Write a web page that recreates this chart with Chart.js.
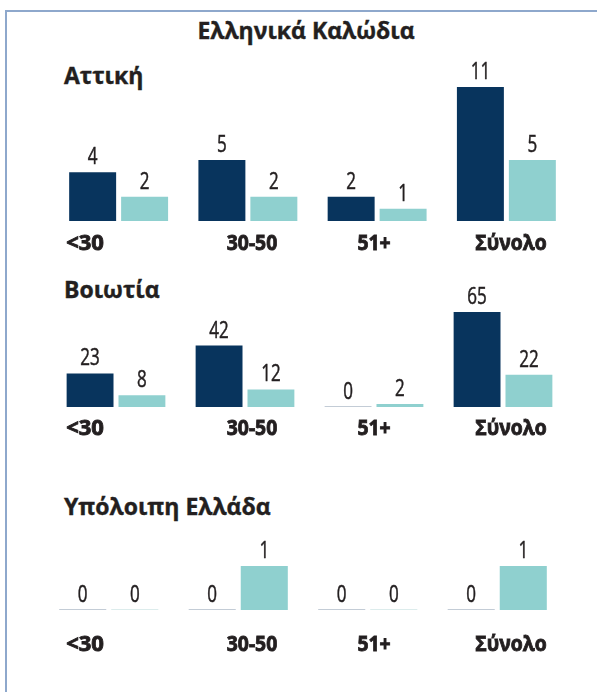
<!DOCTYPE html>
<html lang="el">
<head>
<meta charset="utf-8">
<title>Ελληνικά Καλώδια</title>
<script src="https://cdn.jsdelivr.net/npm/chart.js@4"></script>
<style>
  html, body { margin: 0; padding: 0; background: #fff; }
  body { width: 597px; height: 692px; position: relative; overflow: hidden; font-family: "Open Sans", sans-serif; color: #231f20; }
  .frame { position: absolute; left: 5px; top: 10px; width: 800px; height: 900px; border-left: 2px solid #8ea8cc; border-top: 2px solid #8ea8cc; }
  .title, .region { position: absolute; font-weight: 700; font-size: 23px; line-height: 23px; white-space: nowrap; -webkit-text-stroke: 0.4px #231f20; }
  .title { left: 0; width: 612px; text-align: center; top: 19px; }
  .region { left: 64px; }
  canvas { position: absolute; left: 0; }
</style>
</head>
<body>
<div class="frame"></div>
<div class="title">Ελληνικά Καλώδια</div>
<div class="region" style="top:64px">Αττική</div>
<div class="region" style="top:278px">Βοιωτία</div>
<div class="region" style="top:495px">Υπόλοιπη Ελλάδα</div>
<canvas id="attica" width="597" height="210" style="top:50px"></canvas>
<canvas id="boeotia" width="597" height="190" style="top:260px"></canvas>
<canvas id="rest" width="597" height="150" style="top:520px"></canvas>

<script>
(function () {
  'use strict';

  // ---- Data ----
  const categories = ['<30', '30-50', '51+', 'Σύνολο'];
  const atticaDark = [4, 5, 2, 11];
  const atticaLight = [2, 2, 1, 5];
  const boeotiaDark = [23, 42, 0, 65];
  const boeotiaLight = [8, 12, 2, 22];
  const restDark = [0, 0, 0, 0];
  const restLight = [0, 1, 0, 1];

  const colors = {
    dark: '#08345d',
    light: '#8fd0cf',
    darkZero: '#c3ccd6',
    lightZero: '#dcecec',
    text: '#231f20'
  };

  // category labels sit at the same x in every panel
  const labelX = [85, 252, 374, 511];

  // ---- Labels plugin: values above bars, category names below ----
  const labelsPlugin = {
    id: 'panelLabels',
    afterDatasetsDraw(chart, args, opts) {
      const ctx = chart.ctx;
      const y = chart.scales.y;
      ctx.save();
      ctx.fillStyle = colors.text;
      ctx.strokeStyle = colors.text;
      ctx.textAlign = 'center';
      ctx.textBaseline = 'alphabetic';

      ctx.font = '400 23px "Open Sans"';
      ctx.lineWidth = 0.5;
      chart.data.datasets.forEach((ds, di) => {
        chart.getDatasetMeta(di).data.forEach((bar, i) => {
          const v = ds.data[i];
          ctx.save();
          ctx.translate(bar.x, y.getPixelForValue(v) - 8);
          ctx.scale(0.74, 1);
          ctx.fillText(String(v), 0, 0);
          ctx.strokeText(String(v), 0, 0);
          ctx.restore();
        });
      });

      ctx.font = '700 22px "Open Sans"';
      ctx.lineWidth = 0.9;
      const base = y.getPixelForValue(0);
      chart.data.labels.forEach((lbl, i) => {
        ctx.save();
        ctx.translate(labelX[i], base + opts.labelDy + 8);
        ctx.scale(i === 0 ? 1.0 : 0.88, 1);
        ctx.fillText(lbl, 0, 0);
        ctx.strokeText(lbl, 0, 0);
        ctx.restore();
      });
      ctx.restore();
    }
  };

  function makePanel(id, dark, light, max, padding, labelDy) {
    const ctx = document.getElementById(id);
    if (!ctx || typeof Chart === 'undefined') return;
    new Chart(ctx, {
      type: 'bar',
      data: {
        labels: categories,
        datasets: [
          {
            data: dark,
            backgroundColor: c => (c.raw === 0 ? colors.darkZero : colors.dark),
            minBarLength: 1
          },
          {
            data: light,
            backgroundColor: c => (c.raw === 0 ? colors.lightZero : colors.light),
            minBarLength: 1
          }
        ]
      },
      options: {
        responsive: false,
        animation: false,
        devicePixelRatio: 1,
        categoryPercentage: 0.804,
        barPercentage: 0.904,
        layout: { padding },
        plugins: {
          legend: { display: false },
          tooltip: { enabled: false },
          panelLabels: { labelDy }
        },
        scales: {
          x: { display: false, offset: true },
          y: { display: false, min: 0, max: max }
        }
      },
      plugins: [labelsPlugin]
    });
  }

  // ---- Init ----
  makePanel('attica', atticaDark, atticaLight, 11, { left: 54, right: 26, top: 37, bottom: 39 }, 21);
  makePanel('boeotia', boeotiaDark, boeotiaLight, 65, { left: 51.5, right: 29.5, top: 52, bottom: 43 }, 20);
  makePanel('rest', restDark, restLight, 1, { left: 44, right: 35, top: 46, bottom: 60 }, 33);
})();
</script>
</body>
</html>
